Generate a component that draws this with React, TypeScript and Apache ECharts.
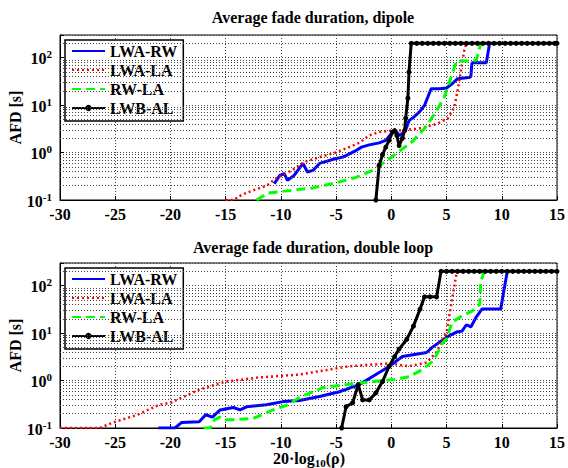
import React, { useEffect, useRef } from "react";
import * as echarts from "echarts";

// ---------- Data (x: 20·log10(rho) [dB], y: AFD [s]) ----------
const seriesNames = ["LWA-RW", "LWA-LA", "RW-LA", "LWB-AL"];

// Dipole
const dipLWARW_x = [-10.6, -10.1, -9.7, -9.4, -8.8, -8.0, -7.6, -7.1, -6.5, -5.0, -4.4, -3.2, -2.7, -2.0, -1.1, -0.5, 0.1, 0.4, 0.7, 1.0, 1.3, 1.6, 2.0, 2.5, 3.0, 3.6, 4.4, 5.0, 5.5, 6.0, 7.0, 7.2, 7.3, 8.6, 8.9];
const dipLWARW_y = [0.22, 0.33, 0.36, 0.26, 0.33, 0.59, 0.39, 0.42, 0.59, 0.75, 0.8, 1.1, 1.3, 1.45, 1.6, 1.8, 2.7, 2.9, 2.3, 2.5, 3.0, 4.7, 5.5, 7, 9.8, 22, 22, 23, 28, 36, 38, 40, 78, 78, 200];

const dipLWALA_x = [-15.0, -14.3, -13.5, -12.5, -11.3, -10.3, -9.0, -7.9, -6.5, -5.0, -2.9, -2.0, -1.1, 0.0, 0.7, 2.5, 4.1, 5.1, 5.7, 6.0, 6.3, 6.6, 6.8];
const dipLWALA_y = [0.1, 0.1, 0.13, 0.16, 0.2, 0.3, 0.42, 0.63, 0.8, 1.0, 1.6, 2.3, 2.7, 2.9, 2.9, 3.2, 4.0, 5.2, 9, 20, 53, 140, 200];

const dipRWLA_x = [-12.2, -11.2, -9.0, -7.1, -5.0, -3.2, -1.7, 0.0, 1.9, 3.0, 4.1, 4.8, 5.4, 5.9, 6.8, 7.7, 8.1];
const dipRWLA_y = [0.1, 0.14, 0.16, 0.18, 0.23, 0.3, 0.42, 0.8, 1.7, 3.2, 7.6, 15, 38, 85, 85, 90, 200];

const dipLWBAL_x = [-1.4, -1.1, -0.8, -0.5, -0.2, 0.1, 0.3, 0.5, 0.7, 1.0, 1.2, 1.3, 1.5, 1.6, 1.8, 2.3, 2.8, 3.3, 3.8, 4.3, 4.8, 5.3, 5.8, 6.3, 6.8, 7.3, 7.8, 8.3, 8.8, 9.3, 9.8, 10.3, 10.8, 11.3, 11.8, 12.3, 12.8, 13.3, 13.8, 14.3, 14.8, 15.0];
const dipLWBAL_y = [0.1, 0.54, 0.9, 1.3, 1.8, 2.7, 2.9, 2.3, 1.4, 2.0, 2.9, 5.3, 14, 50, 200, 200, 200, 200, 200, 200, 200, 200, 200, 200, 200, 200, 200, 200, 200, 200, 200, 200, 200, 200, 200, 200, 200, 200, 200, 200, 200, 200];

// Double loop
const dlLWARW_x = [-21.1, -19.6, -19.0, -17.4, -16.8, -16.2, -15.5, -14.3, -13.7, -13.1, -11.3, -9.8, -8.3, -6.5, -4.7, -2.9, -1.1, -0.2, 1.0, 3.2, 3.7, 5.0, 5.9, 6.4, 6.8, 7.2, 7.7, 8.2, 9.9, 10.5];
const dlLWARW_y = [0.1, 0.1, 0.13, 0.135, 0.19, 0.17, 0.24, 0.27, 0.24, 0.28, 0.31, 0.36, 0.38, 0.46, 0.58, 0.82, 1.48, 1.98, 3.2, 3.9, 5.0, 8.2, 10.5, 11, 15, 13.5, 22, 32, 32, 200];

const dlLWALA_x = [-30, -26.4, -25.2, -23, -21, -20, -17.4, -15, -12, -8.3, -3.8, -0.2, 1.6, 3.2, 4.1, 4.6, 5.0, 5.4, 5.9, 6.0];
const dlLWALA_y = [0.1, 0.1, 0.13, 0.19, 0.31, 0.34, 0.64, 0.95, 1.16, 1.34, 2.0, 2.3, 2.0, 2.4, 4.0, 7, 10.5, 38, 180, 200];

const dlRWLA_x = [-17.0, -16.4, -16.0, -15.5, -15.0, -14.3, -12.5, -10.7, -9.5, -8.3, -6.2, -4.1, -1.7, 0.3, 1.6, 2.8, 3.7, 4.1, 4.6, 5.0, 5.5, 6.4, 7.3, 8.0, 8.1, 8.4];
const dlRWLA_y = [0.1, 0.1, 0.15, 0.17, 0.15, 0.15, 0.16, 0.24, 0.3, 0.44, 0.71, 0.82, 0.95, 1.05, 1.2, 1.7, 2.5, 3.5, 6.0, 7.5, 17, 23, 29, 40, 120, 200];

const dlLWBAL_x = [-4.5, -4.1, -3.5, -3.0, -2.6, -2.0, -1.4, -0.8, -0.2, 0.3, 0.7, 1.4, 2.0, 2.6, 3.0, 3.5, 4.1, 4.5, 5.0, 5.5, 6.0, 6.5, 7.0, 7.5, 8.0, 8.5, 9.0, 9.5, 10.0, 10.5, 11.0, 11.5, 12.0, 12.5, 13.0, 13.5, 14.0, 14.5, 15.0];
const dlLWBAL_y = [0.1, 0.28, 0.34, 0.82, 0.39, 0.39, 0.55, 0.95, 2.0, 3.2, 4.6, 7.4, 14, 32, 58, 58, 58, 200, 200, 200, 200, 200, 200, 200, 200, 200, 200, 200, 200, 200, 200, 200, 200, 200, 200, 200, 200, 200, 200];

// Axis settings
const xMin = -30;
const xMax = 15;
const xStep = 5;
const yMin = 0.1;
const yMax = 300;
const minorGridValues = [0.2, 0.3, 0.4, 0.5, 0.6, 0.7, 0.8, 0.9, 2, 3, 4, 5, 6, 7, 8, 9, 20, 30, 40, 50, 60, 70, 80, 90, 200];

const titles = ["Average fade duration, dipole", "Average fade duration, double loop"];

const FONT = "Liberation Serif";
const colors = ["#0000ff", "#ff0000", "#00ff00", "#000000"];
const lineTypes: any[] = ["solid", [2, 3], [9, 5], "solid"];

const zip = (xs: number[], ys: number[]) => xs.map((x, i) => [x, ys[i]]);

const App: React.FC = () => {
  const ref = useRef<HTMLDivElement>(null);

  useEffect(() => {
    if (!ref.current) return;
    const chart = echarts.init(ref.current, undefined, { renderer: "svg" });

    const grids = [
      { left: 60, top: 35, width: 498, height: 165 },
      { left: 60, top: 263, width: 498, height: 165 },
    ];

    const dataSets = [
      [zip(dipLWARW_x, dipLWARW_y), zip(dipLWALA_x, dipLWALA_y), zip(dipRWLA_x, dipRWLA_y), zip(dipLWBAL_x, dipLWBAL_y)],
      [zip(dlLWARW_x, dlLWARW_y), zip(dlLWALA_x, dlLWALA_y), zip(dlRWLA_x, dlRWLA_y), zip(dlLWBAL_x, dlLWBAL_y)],
    ];

    const dotted = { type: [1, 2] as any, color: "#444", width: 1 };

    const xAxes = grids.map((_, i) => ({
      type: "value",
      gridIndex: i,
      min: xMin,
      max: xMax,
      interval: xStep,
      axisLine: { show: true, onZero: false, lineStyle: { color: "#000", width: 1 } },
      axisTick: { show: true, inside: true, length: 4, lineStyle: { color: "#000" } },
      splitLine: { show: true, lineStyle: dotted },
      axisLabel: { color: "#000", fontFamily: FONT, fontWeight: "bold", fontSize: 16, lineHeight: 14, margin: 7 },
    }));

    const yAxes = grids.map((_, i) => ({
      type: "log",
      logBase: 10,
      gridIndex: i,
      min: yMin,
      max: yMax,
      interval: 1,
      axisLine: { show: true, onZero: false, lineStyle: { color: "#000", width: 1 } },
      axisTick: { show: true, inside: true, length: 4, lineStyle: { color: "#000" } },
      splitLine: { show: true, lineStyle: dotted },
      axisLabel: {
        color: "#000",
        margin: 8,
        formatter: (v: number) => {
          const e = Math.log10(v);
          const r = Math.round(e);
          if (Math.abs(e - r) > 1e-6) return "";
          return `{b|10}{s|${r}}`;
        },
        rich: {
          b: { fontFamily: FONT, fontWeight: "bold", fontSize: 16, lineHeight: 18, verticalAlign: "bottom", color: "#000" },
          s: { fontFamily: FONT, fontWeight: "bold", fontSize: 11, lineHeight: 10, padding: [0, 0, 10, 0], verticalAlign: "top", color: "#000" },
        },
      },
    }));

    const series: any[] = [];
    grids.forEach((_, gi) => {
      series.push({
        type: "line",
        name: "grid" + gi,
        xAxisIndex: gi,
        yAxisIndex: gi,
        data: [],
        silent: true,
        z: 1,
        markLine: {
          silent: true,
          symbol: "none",
          label: { show: false },
          lineStyle: dotted,
          data: minorGridValues.map((v) => ({ yAxis: v })),
        },
      });
      dataSets[gi].forEach((d, si) => {
        const isBlack = si === 3;
        series.push({
          type: "line",
          name: seriesNames[si],
          xAxisIndex: gi,
          yAxisIndex: gi,
          data: d,
          z: 3 + si,
          symbol: isBlack ? "circle" : "none",
          symbolSize: isBlack ? 5 : 0,
          showSymbol: isBlack,
          lineStyle: { color: colors[si], width: si === 1 ? 2.5 : 3, type: lineTypes[si] },
          itemStyle: { color: colors[si] },
        });
      });
    });

    const legends = grids.map((g) => ({
      data: seriesNames.map((n, i) => (i === 3 ? { name: n } : { name: n, itemStyle: { opacity: 0 } })),
      orient: "vertical",
      left: g.left + 5,
      top: g.top + 5,
      itemWidth: 33,
      itemHeight: 8,
      itemGap: 1,
      padding: [2, 6, 4, 6],
      backgroundColor: "#fff",
      borderColor: "#000",
      borderWidth: 1.5,
      borderRadius: 0,
      selectedMode: false,
      textStyle: { fontFamily: FONT, fontWeight: "bold", fontSize: 16, lineHeight: 18, color: "#000" },
    }));

    const graphic: any[] = [];
    grids.forEach((g, i) => {
      const cx = g.left + g.width / 2 + 4;
      graphic.push({
        type: "text",
        x: cx,
        y: i === 0 ? 17 : 247,
        style: {
          text: titles[i],
          fontFamily: FONT,
          fontWeight: "bold",
          fontSize: 16,
          fill: "#000",
          align: "center",
          verticalAlign: "middle",
        },
      });
      graphic.push({
        type: "text",
        x: 15,
        y: g.top + g.height / 2,
        rotation: Math.PI / 2,
        style: {
          text: "AFD [s]",
          fontFamily: FONT,
          fontWeight: "bold",
          fontSize: 16,
          fill: "#000",
          align: "center",
          verticalAlign: "middle",
        },
      });
    });
    graphic.push({
      type: "text",
      x: 309,
      y: 459,
      style: {
        text: "{b|20·log}{s|10}{b|(ρ)}",
        align: "center",
        verticalAlign: "middle",
        rich: {
          b: { fontFamily: FONT, fontWeight: "bold", fontSize: 16, lineHeight: 14, verticalAlign: "top", fill: "#000" },
          s: { fontFamily: FONT, fontWeight: "bold", fontSize: 11, lineHeight: 18, verticalAlign: "bottom", fill: "#000" },
        },
      },
    });

    chart.setOption({
      animation: false,
      backgroundColor: "#fff",
      grid: grids.map((g) => ({ ...g, show: true, borderColor: "#000", borderWidth: 1, backgroundColor: "#fff" })),
      xAxis: xAxes,
      yAxis: yAxes,
      legend: legends,
      series,
      graphic,
    });

    return () => chart.dispose();
  }, []);

  return <div ref={ref} style={{ width: 568, height: 468, position: "absolute", left: 0, top: 0 }} />;
};

export default App;
